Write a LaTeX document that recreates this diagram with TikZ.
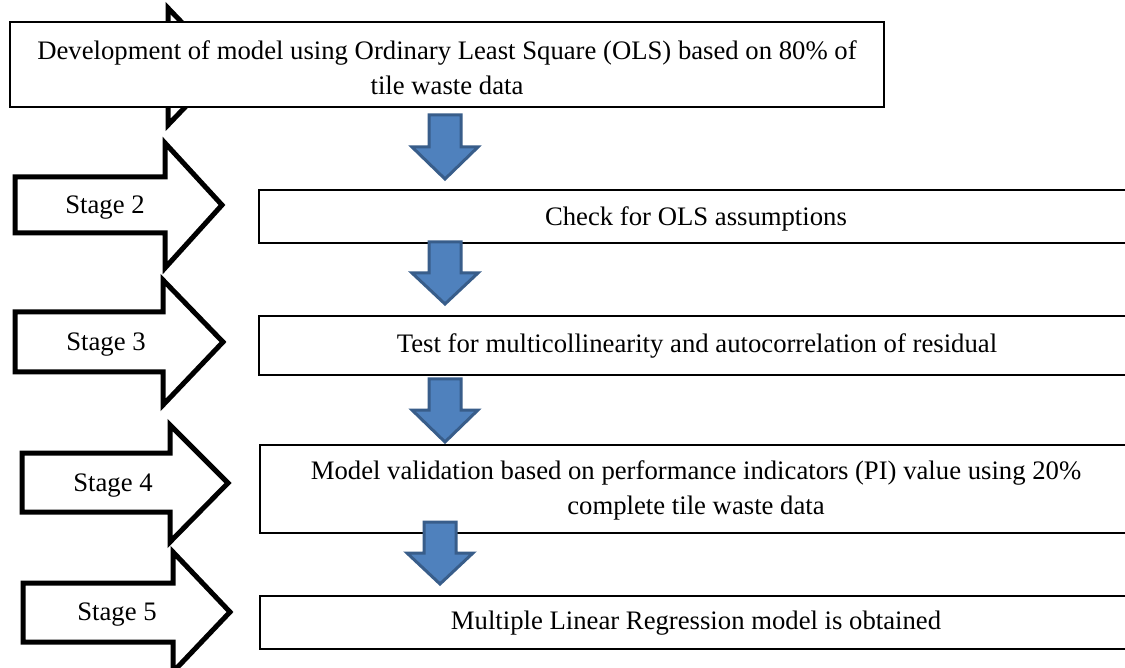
\documentclass[tikz,border=0pt]{standalone}
\usepackage{fontspec}
\setmainfont{Liberation Serif}
\definecolor{bluefill}{HTML}{4F81BD}
\definecolor{bluedark}{HTML}{385D8A}
\begin{document}
\begin{tikzpicture}[x=1pt,y=-1pt,
  stagearrow/.style={draw=black,line width=5pt,fill=white,miter limit=10},
  bluearrow/.style={draw=bluedark,fill=bluefill,line width=3pt},
  flowbox/.style={draw=black,line width=2pt,fill=white},
  lbl/.style={font=\fontsize{26.7}{35}\selectfont,align=center,inner sep=0pt}]
\clip (0,0) rectangle (1125,668);
\fill[white] (0,0) rectangle (1125,668);
% Stage 1 arrow (hidden behind the first box)
\draw[stagearrow] (15,38) -- (168,38) -- (168,8) -- (224,66.5) -- (168,125) -- (168,95) -- (15,95) -- cycle;
\draw[flowbox] (10,22) rectangle (884,107);
\node[lbl] (t1) at (447,68) {Development of model using Ordinary Least Square (OLS) based on 80\% of\\tile waste data};
% Stage 2
\draw[stagearrow] (15,177) -- (165,177) -- (165,143) -- (222,205) -- (165,268) -- (165,233) -- (15,233) -- cycle;
\node[lbl] (s2) at (105,208) {Stage 2};
\draw[flowbox] (259,190) rectangle (1135,243);
\node[lbl] (t2) at (696,219) {Check for OLS assumptions};
% Stage 3
\draw[stagearrow] (15,312) -- (163,312) -- (163,280) -- (223,342) -- (163,405) -- (163,372) -- (15,372) -- cycle;
\node[lbl] (s3) at (106,345) {Stage 3};
\draw[flowbox] (259,316) rectangle (1135,375);
\node[lbl] (t3) at (697,346) {Test for multicollinearity and autocorrelation of residual};
% Stage 4
\draw[stagearrow] (22,453) -- (170,453) -- (170,425) -- (228,483) -- (170,542) -- (170,512) -- (22,512) -- cycle;
\node[lbl] (s4) at (113,486) {Stage 4};
\draw[flowbox] (260,445) rectangle (1135,533);
\node[lbl] (t4) at (696,490) {Model validation based on performance indicators (PI) value using 20\%\\complete tile waste data};
% Stage 5
\draw[stagearrow] (23,583) -- (173,583) -- (173,552) -- (230,612) -- (173,672) -- (173,642) -- (23,642) -- cycle;
\node[lbl] (s5) at (117,615) {Stage 5};
\draw[flowbox] (260,596) rectangle (1135,649);
\node[lbl] (t5) at (696,623) {Multiple Linear Regression model is obtained};
% Blue arrows
\draw[bluearrow] (429,115) -- (461,115) -- (461,147) -- (478,147) -- (445,179) -- (412,147) -- (429,147) -- cycle;
\draw[bluearrow] (429,242) -- (461,242) -- (461,273) -- (478,273) -- (445,304) -- (412,273) -- (429,273) -- cycle;
\draw[bluearrow] (429,379) -- (461,379) -- (461,410) -- (478,410) -- (445,442) -- (412,410) -- (429,410) -- cycle;
\draw[bluearrow] (424,522) -- (456,522) -- (456,553) -- (473,553) -- (440,584) -- (407,553) -- (424,553) -- cycle;
\end{tikzpicture}
\end{document}
